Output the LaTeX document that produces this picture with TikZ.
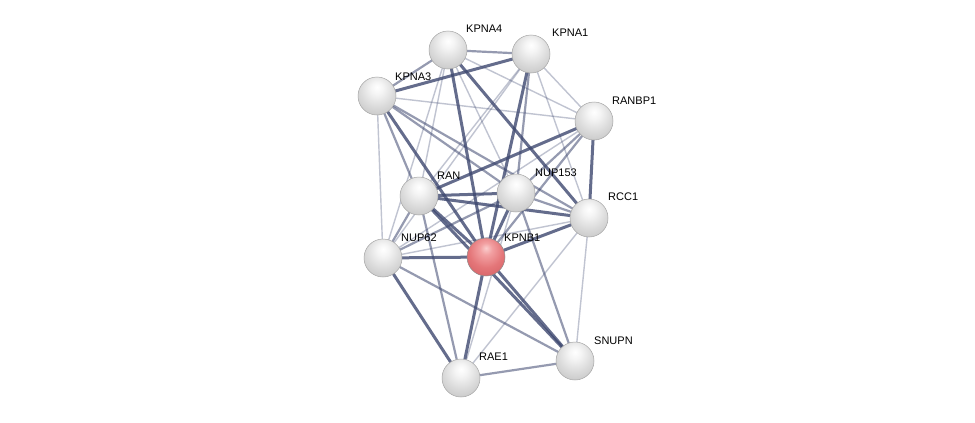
\documentclass[tikz,border=0pt]{standalone}
\usepackage{fontspec}
\setmainfont{Liberation Sans}
\pgfdeclarelayer{bg}
\pgfdeclarelayer{edges}
\pgfsetlayers{bg,edges,main}
\definecolor{edgecol}{RGB}{62,72,112}
\pgfdeclareradialshading{greyball}{\pgfpoint{0bp}{12bp}}{%
  color(0bp)=(white); color(8bp)=(white!96!black); color(22bp)=(white!86!black);
  color(34bp)=(white!78!black); color(46bp)=(white!66!black); color(56bp)=(white!55!black); color(70bp)=(white!55!black)}
\pgfdeclareradialshading{redball}{\pgfpoint{0bp}{12bp}}{%
  color(0bp)=(rgb,255:red,250;green,205;blue,205); color(8bp)=(rgb,255:red,242;green,160;blue,162);
  color(22bp)=(rgb,255:red,228;green,118;blue,121); color(34bp)=(rgb,255:red,215;green,100;blue,104);
  color(46bp)=(rgb,255:red,190;green,80;blue,84); color(56bp)=(rgb,255:red,160;green,62;blue,66); color(70bp)=(rgb,255:red,160;green,62;blue,66)}
\tikzset{
  x=1pt, y=-1pt,
  prot/.style={circle, minimum size=38pt, inner sep=0pt, shading=greyball, draw=black!35, line width=0.5pt},
  qprot/.style={circle, minimum size=38pt, inner sep=0pt, shading=redball, draw=black!45, line width=0.5pt},
  lbl/.style={font=\fontsize{11}{13}\selectfont, inner sep=0pt, anchor=base west},
  ethin/.style={draw=edgecol, line width=1.4pt, opacity=0.32},
  emed/.style={draw=edgecol, line width=2.2pt, opacity=0.55},
  ethick/.style={draw=edgecol, line width=3pt, opacity=0.8},
}
\begin{document}
\begin{tikzpicture}
\begin{pgfonlayer}{bg}
\fill[white] (0,0) rectangle (975,423);
\end{pgfonlayer}
\useasboundingbox (0,0) rectangle (975,423);

\node[prot] (KPNA4) at (448,50) {};
\node[prot] (KPNA1) at (531,54) {};
\node[prot] (KPNA3) at (377,96) {};
\node[prot] (RANBP1) at (594,121) {};
\node[prot] (RAN) at (419,196) {};
\node[prot] (NUP153) at (516,193) {};
\node[prot] (RCC1) at (589,218) {};
\node[prot] (NUP62) at (383,258) {};
\node[qprot] (KPNB1) at (486,257) {};
\node[prot] (SNUPN) at (575,361) {};
\node[prot] (RAE1) at (461,378) {};

\node[lbl] (tKPNA4) at (466,32) {KPNA4};
\node[lbl] (tKPNA1) at (552,36) {KPNA1};
\node[lbl] (tKPNA3) at (395,80) {KPNA3};
\node[lbl] (tRANBP1) at (612,104) {RANBP1};
\node[lbl] (tRAN) at (437,179) {RAN};
\node[lbl] (tNUP153) at (535,176) {NUP153};
\node[lbl] (tRCC1) at (608,200) {RCC1};
\node[lbl] (tNUP62) at (401,241) {NUP62};
\node[lbl] (tKPNB1) at (504,241) {KPNB1};
\node[lbl] (tSNUPN) at (594,344) {SNUPN};
\node[lbl] (tRAE1) at (479,360) {RAE1};

\begin{pgfonlayer}{edges}
% light edges
\foreach \a/\b in {KPNA3/RANBP1, KPNA4/RANBP1, KPNA1/RANBP1, KPNA4/RAN, KPNA4/NUP62,
  KPNA1/RAN, KPNA1/RCC1, KPNA3/NUP62, RANBP1/NUP62, NUP153/RAE1, RCC1/NUP62,
  RCC1/SNUPN, RCC1/RAE1, KPNA1/NUP62, KPNA4/NUP153}
  \draw[ethin] (\a.center) -- (\b.center);
% medium edges
\foreach \a/\b in {KPNA4/KPNA1, KPNA3/KPNA4, KPNA3/NUP153, KPNA3/RAN, KPNA3/RCC1,
  RANBP1/NUP153, RANBP1/KPNB1, RAN/NUP62, RAN/RAE1, NUP153/RCC1, NUP153/NUP62,
  NUP153/SNUPN, NUP62/SNUPN, RAE1/SNUPN, KPNA1/NUP153}
  \draw[emed] (\a.center) -- (\b.center);
% thick edges
\foreach \a/\b in {KPNA3/KPNA1, KPNA4/KPNB1, KPNA4/RCC1, KPNA1/KPNB1, KPNA3/KPNB1,
  RANBP1/RCC1, RAN/NUP153, RAN/RCC1, RAN/KPNB1, NUP153/KPNB1, RCC1/KPNB1,
  NUP62/KPNB1, NUP62/RAE1, KPNB1/RAE1, KPNB1/SNUPN, RAN/SNUPN, RANBP1/RAN}
  \draw[ethick] (\a.center) -- (\b.center);
\end{pgfonlayer}
\end{tikzpicture}
\end{document}
